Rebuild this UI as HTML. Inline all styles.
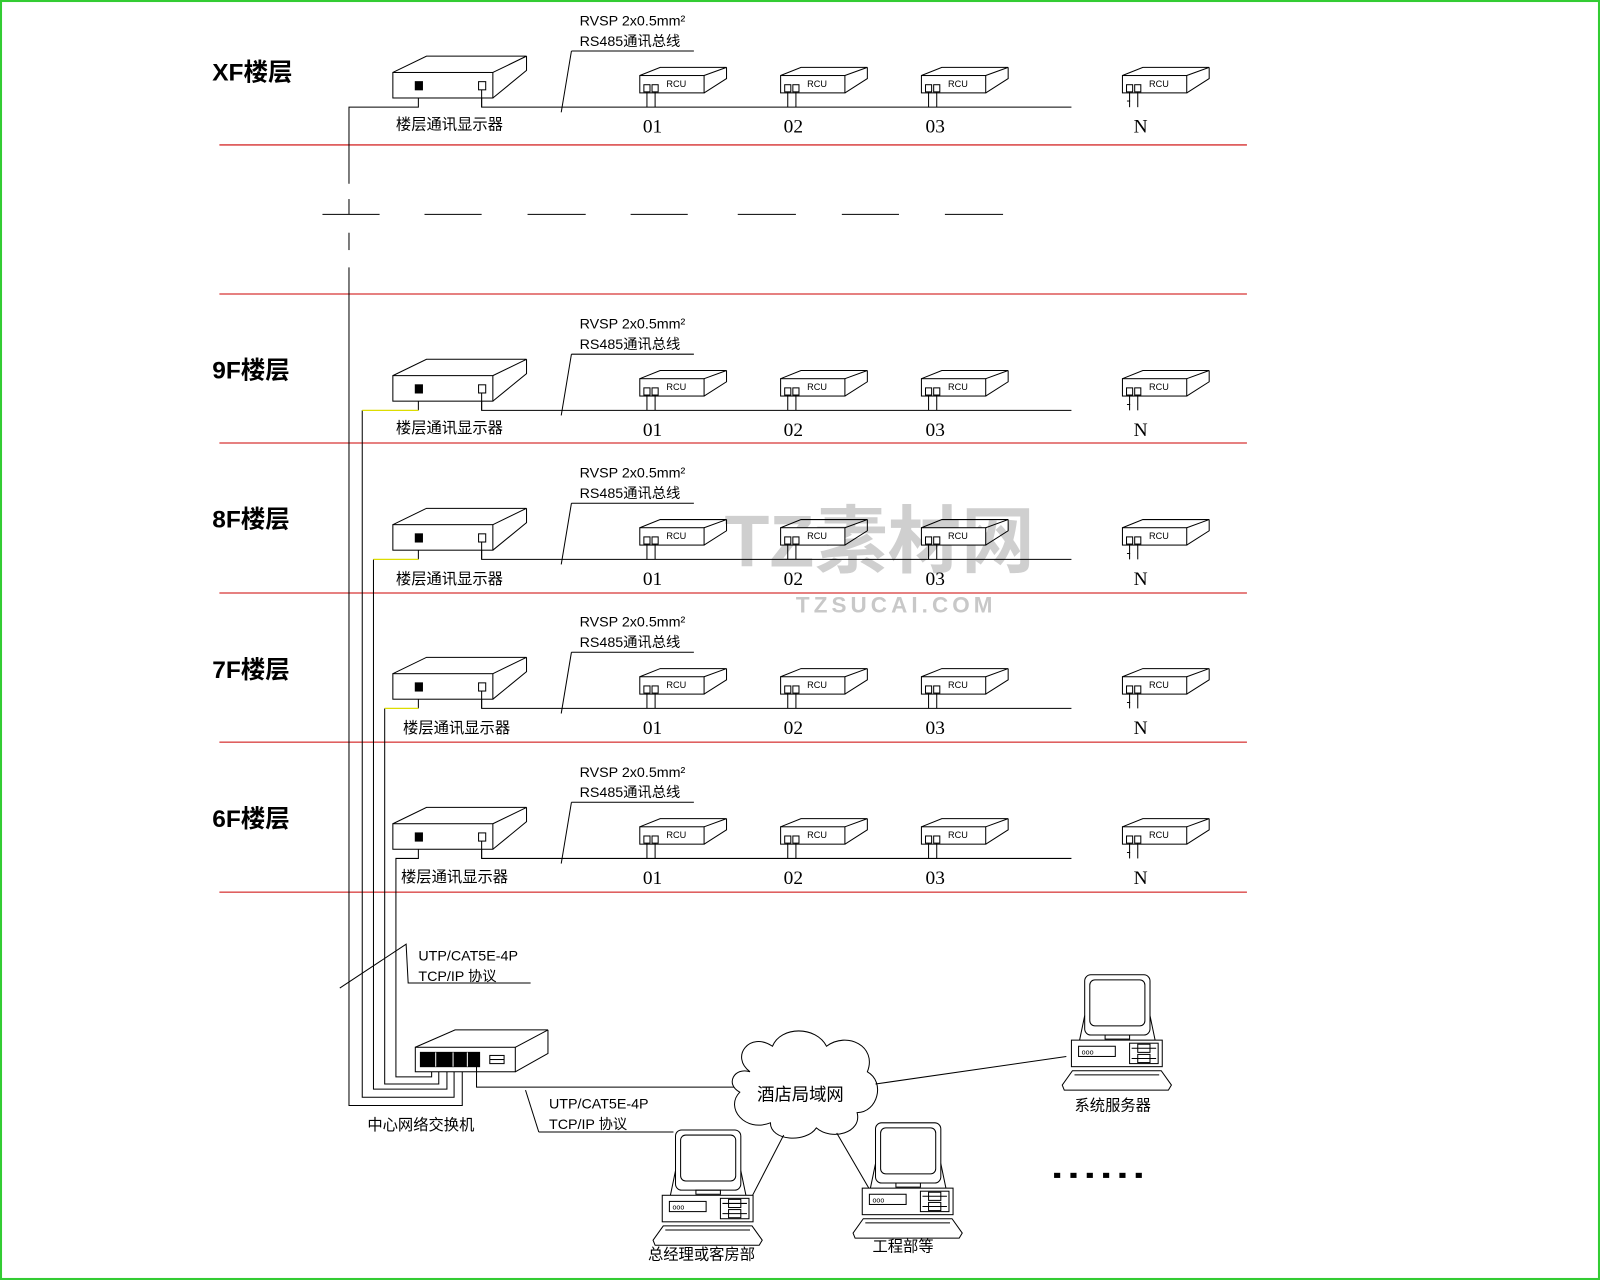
<!DOCTYPE html>
<html><head><meta charset="utf-8"><style>
html,body{margin:0;padding:0;background:#fff}
svg{display:block}
text{font-family:"Liberation Sans","Noto Sans CJK SC",sans-serif;fill:#000}
.s{font-family:"Liberation Serif","Noto Serif CJK SC",serif}
</style></head><body>
<svg width="1600" height="1280" viewBox="0 0 1568 1254" preserveAspectRatio="none" xmlns="http://www.w3.org/2000/svg">
<defs>
<g id="disp" fill="none" stroke="#000" stroke-width="1">
<rect x="0" y="0" width="98" height="25" fill="#fff"/>
<polyline points="0,0 33,-16 131,-16 98,0"/>
<polyline points="131,-16 131,-2 98,25"/>
<rect x="22" y="9" width="7" height="8" fill="#000"/>
<rect x="84" y="9" width="7" height="8"/>
<polyline points="87,17 87,34"/>
</g>
<g id="rcu" fill="none" stroke="#000" stroke-width="1">
<rect x="0" y="0" width="63" height="17" fill="#fff"/>
<polyline points="0,0 20,-8 85,-8 63,0"/>
<polyline points="85,-8 85,3 63,17"/>
<rect x="4" y="9" width="6" height="7"/>
<rect x="12" y="9" width="6" height="7"/>
<polyline points="7,16 7,31"/>
<polyline points="15,16 15,31"/>
<text x="26" y="11" font-size="9" stroke="none" fill="#000">RCU</text>
</g>
<g id="pc" fill="none" stroke="#000" stroke-width="1">
<rect x="0" y="0" width="64" height="59" rx="6" fill="#fff"/>
<rect x="5" y="5" width="54" height="45" rx="5"/>
<rect x="20" y="59" width="24" height="4"/>
<polyline points="0,40 -5,64"/><polyline points="64,40 69,64"/>
<rect x="-13" y="64" width="89" height="26" fill="#fff"/>
<rect x="-6" y="70" width="36" height="10"/>
<text x="-3" y="78" font-size="7" stroke="none">ooo</text>
<rect x="44" y="67" width="28" height="20"/>
<line x1="46" y1="72" x2="70" y2="72"/><line x1="46" y1="82" x2="70" y2="82"/>
<rect x="52" y="68" width="12" height="8"/><rect x="52" y="78" width="12" height="8"/>
<path d="M-12,94 L75,94 L85,108 L82,113 L-20,113 L-22,108 Z" fill="#fff"/>
<line x1="-10" y1="98" x2="73" y2="98"/>
</g>
<g id="floor">
<use href="#disp" x="385" y="-34"/>
<polyline points="472,-9 472,0 1050,0" fill="none" stroke="#000"/>
<use href="#rcu" x="627" y="-31"/>
<use href="#rcu" x="765" y="-31"/>
<use href="#rcu" x="903" y="-31"/>
<use href="#rcu" x="1100" y="-31"/>
<polyline points="560,-55 680,-55" fill="none" stroke="#000"/>
<polyline points="560,-55 550,5" fill="none" stroke="#000"/>
<text x="568" y="-80" font-size="14">RVSP 2x0.5mm²</text>
<text x="568" y="-60" font-size="14">RS485通讯总线</text>
<text class="s" x="630" y="25" font-size="19">01</text>
<text class="s" x="768" y="25" font-size="19">02</text>
<text class="s" x="907" y="25" font-size="19">03</text>
<text class="s" x="1104" y="-3" font-size="12">-</text>
<text class="s" x="1111" y="25" font-size="19">N</text>
</g>
</defs>
<rect x="1" y="1" width="1566" height="1252" fill="none" stroke="#3c3" stroke-width="2"/>

<g stroke="#c00" stroke-width="1">
<line x1="215" y1="142" x2="1222" y2="142"/><line x1="215" y1="288" x2="1222" y2="288"/>
<line x1="215" y1="434" x2="1222" y2="434"/><line x1="215" y1="581" x2="1222" y2="581"/>
<line x1="215" y1="727" x2="1222" y2="727"/><line x1="215" y1="874" x2="1222" y2="874"/>
</g>

<g font-size="24" font-weight="bold">
<text x="208" y="79">XF楼层</text><text x="208" y="371">9F楼层</text>
<text x="208" y="517">8F楼层</text><text x="208" y="664">7F楼层</text>
<text x="208" y="810">6F楼层</text>
</g>

<text x="260" y="555" font-size="72" font-weight="bold" fill="#ccc" style="fill:#cfcfcf" transform="translate(450,0)">TZ素材网</text>
<text x="780" y="600" font-size="22" font-weight="bold" letter-spacing="4" style="fill:#c8c8c8">TZSUCAI.COM</text>

<use href="#floor" transform="translate(0,105)"/>
<use href="#floor" transform="translate(0,402)"/>
<use href="#floor" transform="translate(0,548)"/>
<use href="#floor" transform="translate(0,694)"/>
<use href="#floor" transform="translate(0,841)"/>

<g font-size="15">
<text x="388" y="127">楼层通讯显示器</text><text x="388" y="424">楼层通讯显示器</text>
<text x="388" y="572">楼层通讯显示器</text><text x="395" y="718">楼层通讯显示器</text>
<text x="393" y="864">楼层通讯显示器</text>
</g>

<!-- trunks -->
<g fill="none" stroke="#000" stroke-width="1">
<polyline points="410,96 410,105 342,105 342,180"/>
<line x1="342" y1="195" x2="342" y2="210"/><line x1="342" y1="228" x2="342" y2="245"/>
<polyline points="342,262 342,1083 453,1083 453,1046"/>
<polyline points="410,393 410,402"/><polyline points="355,402 355,1075 445,1075 445,1046"/>
<polyline points="410,539 410,548"/><polyline points="366,548 366,1067 438,1067 438,1046"/>
<polyline points="410,685 410,694"/><polyline points="377,694 377,1062 430,1062 430,1046"/>
<polyline points="410,832 410,841 388,841 388,1055 423,1055 423,1046"/>
</g>
<g stroke="#dd0" stroke-width="1.2">
<line x1="355" y1="402" x2="410" y2="402"/><line x1="366" y1="548" x2="410" y2="548"/>
<line x1="377" y1="694" x2="410" y2="694"/>
</g>
<g stroke="#000">
<line x1="316" y1="210" x2="372" y2="210"/><line x1="416" y1="210" x2="472" y2="210"/>
<line x1="517" y1="210" x2="574" y2="210"/><line x1="618" y1="210" x2="674" y2="210"/>
<line x1="723" y1="210" x2="780" y2="210"/><line x1="825" y1="210" x2="881" y2="210"/>
<line x1="926" y1="210" x2="983" y2="210"/>
</g>

<!-- upper UTP label -->
<g fill="none" stroke="#000">
<polyline points="333,968 398,925 400,963 520,963"/>
</g>
<text x="410" y="941" font-size="14">UTP/CAT5E-4P</text>
<text x="410" y="961" font-size="14">TCP/IP 协议</text>

<!-- switch -->
<g fill="none" stroke="#000">
<rect x="407" y="1026" width="98" height="24" fill="#fff"/>
<polyline points="407,1026 446,1009 537,1009 505,1026"/>
<polyline points="537,1009 537,1032 505,1050"/>
<rect x="412" y="1031" width="58" height="14" fill="#000"/>
<rect x="480" y="1034" width="14" height="8"/>
<line x1="480" y1="1038" x2="494" y2="1038"/>
<polyline points="467,1045 467,1065 728,1065"/>
<polyline points="528,1109 515,1068"/><polyline points="528,1109 660,1109"/>
</g>
<g stroke="#fff"><line x1="427" y1="1031" x2="427" y2="1045"/><line x1="444" y1="1031" x2="444" y2="1045"/><line x1="458" y1="1031" x2="458" y2="1045"/></g>
<text x="360" y="1107" font-size="15">中心网络交换机</text>
<text x="538" y="1086" font-size="14">UTP/CAT5E-4P</text>
<text x="538" y="1106" font-size="14">TCP/IP 协议</text>

<!-- cloud -->
<path d="M735,1050 C715,1035 735,1010 757,1025 C765,1005 800,1005 810,1025 C830,1010 860,1025 850,1050 C868,1060 860,1090 840,1090 C845,1110 815,1118 800,1105 C790,1120 755,1118 755,1100 C730,1110 710,1085 725,1070 C710,1062 720,1045 735,1050 Z" fill="#fff" stroke="#000"/>
<text x="742" y="1078" font-size="17">酒店局域网</text>
<g stroke="#000"><line x1="858" y1="1062" x2="1045" y2="1035"/><line x1="768" y1="1112" x2="737" y2="1172"/><line x1="820" y1="1110" x2="852" y2="1165"/></g>

<use href="#pc" x="1063" y="955"/>
<use href="#pc" x="662" y="1107"/>
<use href="#pc" x="858" y="1100"/>
<text x="1053" y="1088" font-size="15">系统服务器</text>
<text x="635" y="1234" font-size="15">总经理或客房部</text>
<text x="855" y="1226" font-size="15">工程部等</text>
<g fill="#000"><rect x="1033" y="1149" width="6" height="5"/><rect x="1049" y="1149" width="6" height="5"/><rect x="1065" y="1149" width="6" height="5"/><rect x="1081" y="1149" width="6" height="5"/><rect x="1097" y="1149" width="6" height="5"/><rect x="1113" y="1149" width="6" height="5"/></g>
</svg>
</body></html>
